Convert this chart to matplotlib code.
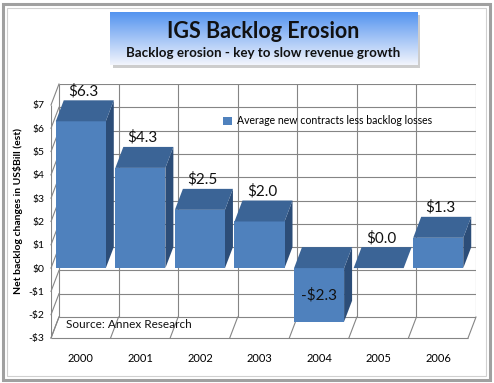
import numpy as np
import matplotlib.pyplot as plt
from matplotlib.patches import Polygon, Rectangle

years = ['2000', '2001', '2002', '2003', '2004', '2005', '2006']
values = [6.3, 4.3, 2.5, 2.0, -2.3, 0.0, 1.3]
bar_labels = ['$6.3', '$4.3', '$2.5', '$2.0', '-$2.3', '$0.0', '$1.3']
yticks = list(range(-3, 8))
series_name = 'Average new contracts less backlog losses'

plt.rcParams['font.family'] = ['Lato', 'DejaVu Sans']

W, H = 494, 383
fig = plt.figure(figsize=(W / 100, H / 100), dpi=100)


def px(x0, y0, x1, y1):
    # pixel box (top-left origin) -> figure rect
    return [x0 / W, 1 - y1 / H, (x1 - x0) / W, (y1 - y0) / H]


# outer frame with bevel
fig.patches.append(Rectangle((3 / W, 3 / H), 487 / W, 376 / H, transform=fig.transFigure,
                             fill=False, edgecolor='#a0a0a0', lw=2.2))
fig.patches.append(Rectangle((7 / W, 7 / H), 479 / W, 368 / H, transform=fig.transFigure,
                             fill=False, edgecolor='#d0d0d0', lw=0.8))

# title box with gradient and shadow
fig.patches.append(Rectangle((113 / W, 1 - 68 / H), 307 / W, 53 / H, transform=fig.transFigure,
                             facecolor='#b8b8b8', edgecolor='none', alpha=0.7, zorder=-1))
tax = fig.add_axes(px(110, 12, 417, 65))
grad = np.linspace(0, 1, 100)[:, None]
top_c = np.array([0.33, 0.58, 0.94])
bot_c = np.array([0.95, 0.96, 0.99])
img = top_c[None, None, :] * (1 - grad[:, :, None]) + bot_c[None, None, :] * grad[:, :, None]
tax.imshow(img, aspect='auto', extent=(0, 1, 0, 1))
tax.set_axis_off()
tax.text(0.5, 0.64, 'IGS Backlog Erosion', ha='center', va='center', fontsize=15.5,
         fontweight='bold', color='#111111', transform=tax.transAxes)
tax.text(0.5, 0.22, 'Backlog erosion - key to slow revenue growth', ha='center', va='center',
         fontsize=9.6, fontweight='bold', color='#111111', transform=tax.transAxes)

# main chart
dx, dy = 0.134, 0.9
ax = fig.add_axes(px(51, 84, 476, 338))
ax.set_xlim(-0.5, 6.5 + dx)
ax.set_ylim(-3, 7 + dy)
for s in ax.spines.values():
    s.set_visible(False)

gc = '#858585'
glw = 0.8
n = len(years)
# back wall
ax.hlines([v + dy for v in yticks], -0.5 + dx, n - 0.5 + dx, colors=gc, lw=glw, zorder=1)
ax.vlines([k - 0.5 + dx for k in range(n + 1)], -3 + dy, 7 + dy, colors=gc, lw=glw, zorder=1)
# left side wall
for v in yticks:
    ax.plot([-0.5, -0.5 + dx], [v, v + dy], color=gc, lw=glw, zorder=1, clip_on=False)
ax.vlines([-0.5], -3, 7, colors=gc, lw=glw, zorder=1)
# floor
ax.hlines([-3], -0.5, n - 0.5, colors=gc, lw=glw, zorder=1, clip_on=False)
for k in range(n + 1):
    ax.plot([k - 0.5, k - 0.5 + dx], [-3, -3 + dy], color=gc, lw=glw, zorder=1, clip_on=False)

# bars
front_c, top_col, side_c = '#4f81bd', '#3b6496', '#2c4d78'
width = 0.84
bars = ax.bar(range(n), values, width=width, color=front_c, zorder=3, label=series_name)
for i, v in enumerate(values):
    l, r = i - width / 2, i + width / 2
    t = max(v, 0)
    ax.add_patch(Polygon([(l, t), (r, t), (r + dx, t + dy), (l + dx, t + dy)],
                         closed=True, facecolor=top_col, edgecolor='none', zorder=3))
    ax.add_patch(Polygon([(r, 0), (r, v), (r + dx, v + dy), (r + dx, dy)],
                         closed=True, facecolor=side_c, edgecolor='none', zorder=2.9))
    lab = bar_labels[i].replace('$', r'\$')
    if v < 0:
        ax.text(i, v / 2, lab, ha='center', va='center', fontsize=11, color='#111111', zorder=5)
    else:
        ax.text(i + 0.04, v + dy + 0.4, lab, ha='center', va='center', fontsize=11,
                color='#111111', zorder=5)

ytl = [('-' if v < 0 else '') + r'\$' + str(abs(v)) for v in yticks]
ax.set_yticks(yticks, labels=ytl)
ax.set_xticks(range(n), labels=years)
ax.tick_params(axis='y', length=0, pad=5, labelsize=7.5)
ax.tick_params(axis='x', length=0, pad=11, labelsize=8)
ax.set_ylabel(r'Net backlog changes in US\$Bill (est)', fontsize=7.5, fontweight='bold',
              labelpad=4)

ax.legend(handles=[bars], loc='upper left', bbox_to_anchor=(216 / W, 1 - 108 / H),
          bbox_transform=fig.transFigure, frameon=False, fontsize=7.6,
          handlelength=0.8, handleheight=0.8, handletextpad=0.5, borderpad=0.2)

fig.text(66 / W, 1 - 325 / H, 'Source: Annex Research', fontsize=8.5, va='center',
         ha='left', color='#111111')

fig.savefig('out.png', dpi=100)
